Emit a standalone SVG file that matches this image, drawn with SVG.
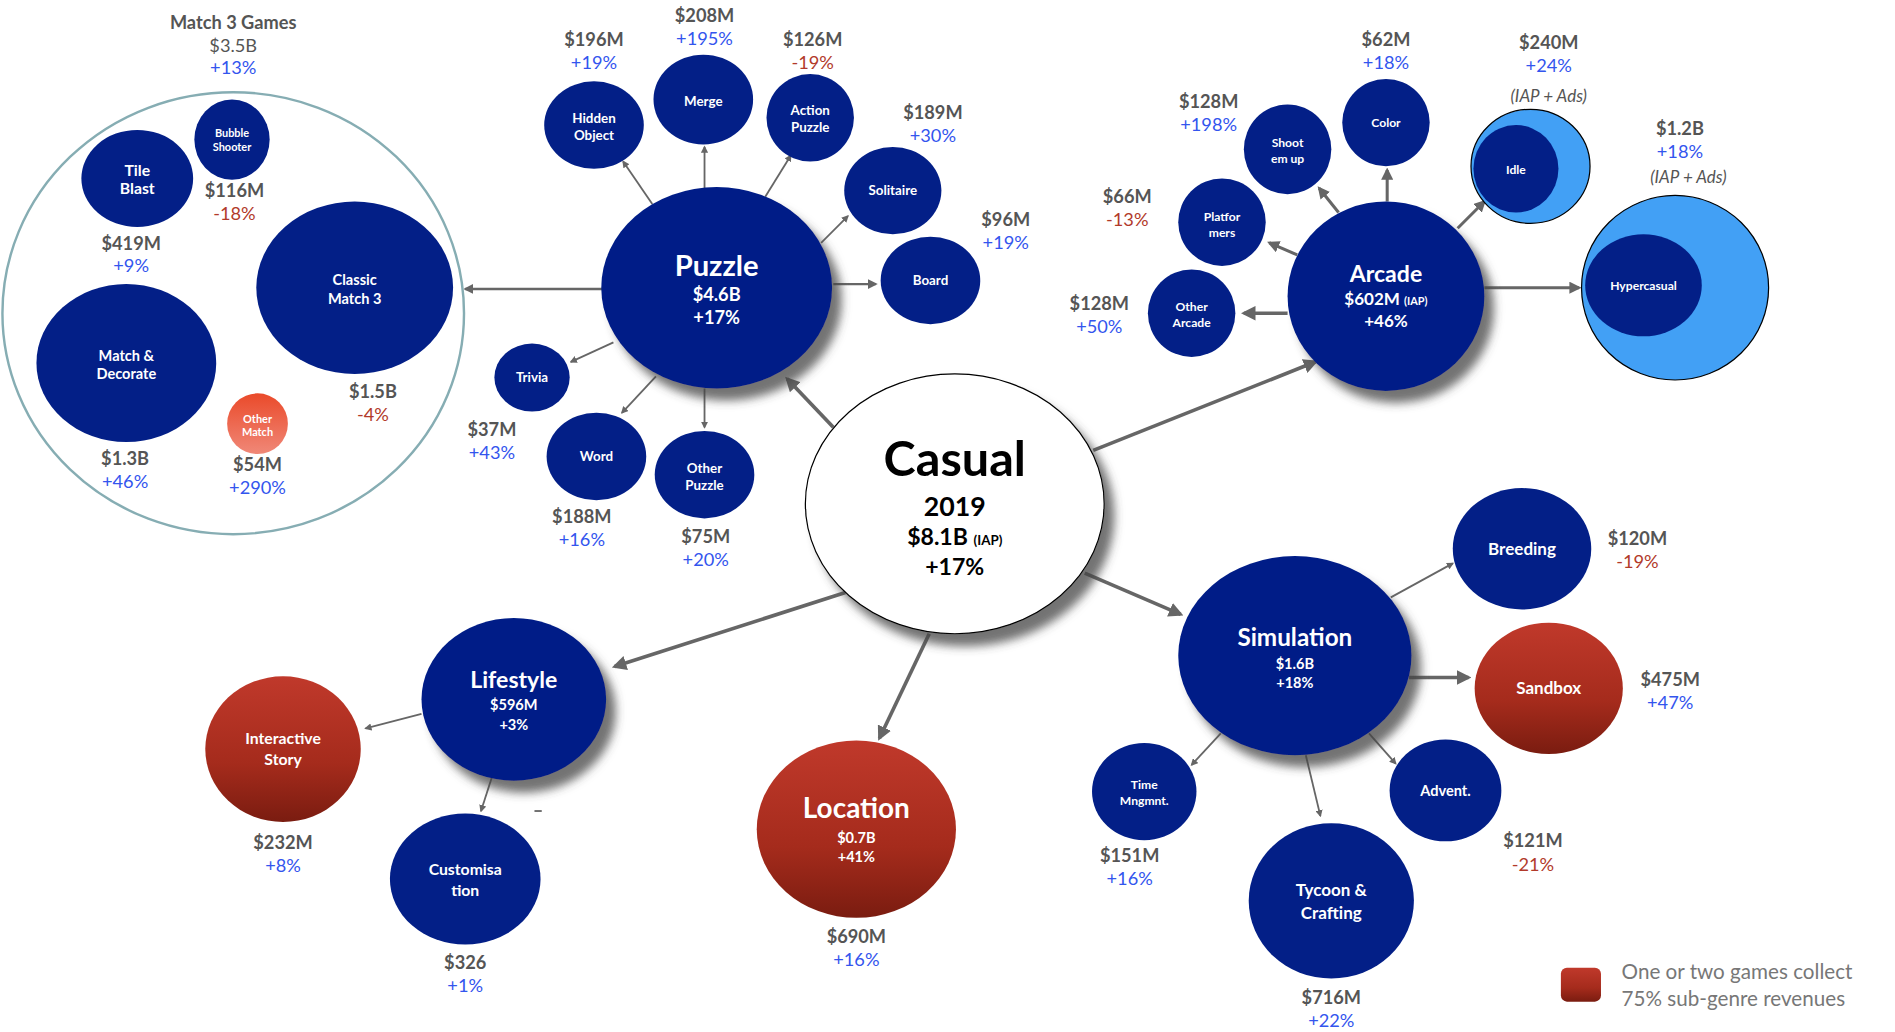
<svg xmlns="http://www.w3.org/2000/svg" width="1895" height="1032" viewBox="0 0 1895 1032">
<defs>
<style>
text{font-family:Lato,"Open Sans","Liberation Sans",sans-serif;text-anchor:middle}
.n{fill:#031f87}
.w{fill:#fff;font-weight:bold}
.v{fill:#555;font-weight:bold;font-size:15px}
.b{fill:#3355ee;font-size:15px}
.r{fill:#b23a2a;font-size:15px}
.g{fill:#555;font-size:14px;font-style:italic}
.c{stroke:#666;fill:none;marker-end:url(#a)}
.t{stroke-width:1.5}
.k{stroke-width:3}
</style>
<marker id="a" viewBox="0 0 10 10" refX="8" refY="5" markerWidth="4" markerHeight="4" orient="auto"><path d="M0,0L10,5L0,10z" fill="#666"/></marker>
<linearGradient id="red" x1="0" y1="0" x2="0" y2="1"><stop offset="0" stop-color="#c0392b"/><stop offset="0.6" stop-color="#a52b1c"/><stop offset="1" stop-color="#7a1c10"/></linearGradient>
<linearGradient id="orange" x1="0" y1="0" x2="0" y2="1"><stop offset="0" stop-color="#ea4a2a"/><stop offset="1" stop-color="#f08878"/></linearGradient>
<filter id="sh" x="-20%" y="-20%" width="150%" height="150%"><feDropShadow dx="8" dy="10" stdDeviation="4" flood-color="#444" flood-opacity="0.75"/></filter>
</defs>
<rect width="1895" height="1032" fill="#fff"/>
<g transform="scale(1.2147,1.2141)">
<g id="connectors">
<path class="c k" d="M686,352L648,312"/>
<path class="c k" d="M900,371L1083,298"/>
<path class="c k" d="M893,472L972,506"/>
<path class="c k" d="M696,488L506,549"/>
<path class="c k" d="M765,522L724,608"/>
<path class="c" stroke-width="2" d="M496,238L383,238"/>
<path class="c t" d="M537,168L513,133"/>
<path class="c t" d="M580,155L580,121"/>
<path class="c t" d="M630,162L651,128"/>
<path class="c t" d="M676,200L698,178"/>
<path class="c" stroke-width="2" d="M686,234L721,234"/>
<path class="c t" d="M505,282L470,298"/>
<path class="c t" d="M540,310L512,340"/>
<path class="c t" d="M580,320L580,352"/>
<path class="c" stroke-width="2.5" d="M1102,175L1086,155"/>
<path class="c" stroke-width="2.5" d="M1142,166L1142,140"/>
<path class="c" stroke-width="2.5" d="M1068,210L1045,200"/>
<path class="c k" d="M1060,258L1024,258"/>
<path class="c" stroke-width="2.5" d="M1200,188L1222,166"/>
<path class="c" stroke-width="2.5" d="M1222,237L1300,237"/>
<path class="c t" d="M1145,492L1196,464"/>
<path class="c k" d="M1160,558L1209,558"/>
<path class="c t" d="M1127,604L1149,629"/>
<path class="c t" d="M1075,622L1087,672"/>
<path class="c t" d="M1005,604L981,630"/>
<path class="c t" d="M347,588L301,600"/>
<path class="c t" d="M405,640L396,668"/>
<path d="M440,668L446,668" stroke="#666" stroke-width="1.5"/>
</g>
<g id="match3">
<ellipse cx="192" cy="258" rx="190" ry="182" fill="none" stroke="#86adb3" stroke-width="2"/>
<text x="192" y="24" class="v" font-size="15">Match 3 Games</text>
<text x="192" y="43" fill="#555" font-size="15">$3.5B</text>
<text x="192" y="61" class="b">+13%</text>
</g>
<g id="bubble"><ellipse class="n" cx="191" cy="115" rx="31" ry="33"/><text class="w" font-size="9"><tspan x="191" y="113">Bubble</tspan><tspan x="191" y="124">Shooter</tspan></text><text x="193" y="162" class="v">$116M</text><text x="193" y="181" class="r">-18%</text></g>
<g id="tile"><ellipse class="n" cx="113" cy="147" rx="46" ry="40"/><text class="w" font-size="13"><tspan x="113" y="145">Tile</tspan><tspan x="113" y="160">Blast</tspan></text><text x="108" y="206" class="v">$419M</text><text x="108" y="224" class="b">+9%</text></g>
<g id="classic"><ellipse class="n" cx="292" cy="237" rx="81" ry="71"/><text class="w" font-size="12"><tspan x="292" y="235">Classic</tspan><tspan x="292" y="250">Match 3</tspan></text><text x="307" y="328" class="v">$1.5B</text><text x="307" y="347" class="r">-4%</text></g>
<g id="decorate"><ellipse class="n" cx="104" cy="299" rx="74" ry="65"/><text class="w" font-size="12"><tspan x="104" y="297">Match &amp;</tspan><tspan x="104" y="312">Decorate</tspan></text><text x="103" y="383" class="v">$1.3B</text><text x="103" y="402" class="b">+46%</text></g>
<g id="othermatch"><circle cx="212" cy="349" r="25" fill="url(#orange)"/><text class="w" font-size="9"><tspan x="212" y="348">Other</tspan><tspan x="212" y="359">Match</tspan></text><text x="212" y="388" class="v">$54M</text><text x="212" y="407" class="b">+290%</text></g>
<g id="puzzle"><ellipse class="n" cx="590" cy="237" rx="95" ry="83" filter="url(#sh)"/><text x="590" y="227" class="w" font-size="24">Puzzle</text><text x="590" y="248" class="w" font-size="15">$4.6B</text><text x="590" y="267" class="w" font-size="15">+17%</text></g>
<g id="hidden"><ellipse class="n" cx="489" cy="103" rx="41" ry="36"/><text class="w" font-size="11"><tspan x="489" y="101">Hidden</tspan><tspan x="489" y="115">Object</tspan></text><text x="489" y="38" class="v">$196M</text><text x="489" y="57" class="b">+19%</text></g>
<g id="merge"><ellipse class="n" cx="579" cy="82" rx="41" ry="37"/><text x="579" y="87" class="w" font-size="11">Merge</text><text x="580" y="18" class="v">$208M</text><text x="580" y="37" class="b">+195%</text></g>
<g id="action"><ellipse class="n" cx="667" cy="97" rx="36" ry="36"/><text class="w" font-size="11"><tspan x="667" y="95">Action</tspan><tspan x="667" y="109">Puzzle</tspan></text><text x="669" y="38" class="v">$126M</text><text x="669" y="57" class="r">-19%</text></g>
<g id="solitaire"><ellipse class="n" cx="735" cy="157" rx="40" ry="36"/><text x="735" y="161" class="w" font-size="11">Solitaire</text><text x="768" y="98" class="v">$189M</text><text x="768" y="117" class="b">+30%</text></g>
<g id="board"><ellipse class="n" cx="766" cy="231" rx="41" ry="36"/><text x="766" y="235" class="w" font-size="11">Board</text><text x="828" y="186" class="v">$96M</text><text x="828" y="205" class="b">+19%</text></g>
<g id="trivia"><ellipse class="n" cx="438" cy="311" rx="31" ry="28"/><text x="438" y="315" class="w" font-size="11">Trivia</text><text x="405" y="359" class="v">$37M</text><text x="405" y="378" class="b">+43%</text></g>
<g id="word"><ellipse class="n" cx="491" cy="376" rx="41" ry="36"/><text x="491" y="380" class="w" font-size="11">Word</text><text x="479" y="431" class="v">$188M</text><text x="479" y="450" class="b">+16%</text></g>
<g id="otherpuzzle"><ellipse class="n" cx="580" cy="391" rx="41" ry="36"/><text class="w" font-size="11"><tspan x="580" y="390">Other</tspan><tspan x="580" y="404">Puzzle</tspan></text><text x="581" y="447" class="v">$75M</text><text x="581" y="466" class="b">+20%</text></g>
<g id="casual"><ellipse cx="786" cy="415" rx="123" ry="107" fill="#fff" stroke="#000" stroke-width="1" filter="url(#sh)"/><text x="786" y="392" font-weight="bold" font-size="40" fill="#000">Casual</text><text x="786" y="425" font-weight="bold" font-size="22" fill="#000">2019</text><text x="786" y="449" font-weight="bold" font-size="19" fill="#000">$8.1B <tspan font-size="11">(IAP)</tspan></text><text x="786" y="474" font-weight="bold" font-size="19" fill="#000">+17%</text></g>
<g id="arcade"><ellipse class="n" cx="1141" cy="244" rx="81" ry="78" filter="url(#sh)"/><text x="1141" y="232" class="w" font-size="19">Arcade</text><text x="1141" y="251" class="w" font-size="14">$602M <tspan font-size="9">(IAP)</tspan></text><text x="1141" y="269" class="w" font-size="14">+46%</text></g>
<g id="shoot"><ellipse class="n" cx="1060" cy="123" rx="36" ry="37"/><text class="w" font-size="10"><tspan x="1060" y="121">Shoot</tspan><tspan x="1060" y="134">em up</tspan></text><text x="995" y="89" class="v">$128M</text><text x="995" y="108" class="b">+198%</text></g>
<g id="color"><ellipse class="n" cx="1141" cy="101" rx="36" ry="36"/><text x="1141" y="105" class="w" font-size="10">Color</text><text x="1141" y="38" class="v">$62M</text><text x="1141" y="57" class="b">+18%</text></g>
<g id="platformers"><ellipse class="n" cx="1006" cy="183" rx="36" ry="36"/><text class="w" font-size="10"><tspan x="1006" y="182">Platfor</tspan><tspan x="1006" y="195">mers</tspan></text><text x="928" y="167" class="v">$66M</text><text x="928" y="186" class="r">-13%</text></g>
<g id="otherarcade"><ellipse class="n" cx="981" cy="258" rx="36" ry="36"/><text class="w" font-size="10"><tspan x="981" y="256">Other</tspan><tspan x="981" y="269">Arcade</tspan></text><text x="905" y="255" class="v">$128M</text><text x="905" y="274" class="b">+50%</text></g>
<g id="idle"><ellipse cx="1260" cy="137" rx="49" ry="47" fill="#42a0f5" stroke="#000"/><ellipse class="n" cx="1248" cy="139" rx="35" ry="36"/><text x="1248" y="143" class="w" font-size="10">Idle</text><text x="1275" y="40" class="v">$240M</text><text x="1275" y="59" class="b">+24%</text><text x="1275" y="84" class="g">(IAP + Ads)</text></g>
<g id="hypercasual"><ellipse cx="1379" cy="237" rx="77" ry="76" fill="#42a0f5" stroke="#000"/><ellipse class="n" cx="1353" cy="235" rx="48" ry="42"/><text x="1353" y="239" class="w" font-size="10">Hypercasual</text><text x="1383" y="111" class="v">$1.2B</text><text x="1383" y="130" class="b">+18%</text><text x="1390" y="151" class="g">(IAP + Ads)</text></g>
<g id="simulation"><ellipse class="n" cx="1066" cy="540" rx="96" ry="82" filter="url(#sh)"/><text x="1066" y="532" class="w" font-size="20">Simulation</text><text x="1066" y="551" class="w" font-size="12">$1.6B</text><text x="1066" y="567" class="w" font-size="12">+18%</text></g>
<g id="breeding"><ellipse class="n" cx="1253" cy="452" rx="57" ry="50"/><text x="1253" y="457" class="w" font-size="14">Breeding</text><text x="1348" y="449" class="v">$120M</text><text x="1348" y="468" class="r">-19%</text></g>
<g id="sandbox"><ellipse cx="1275" cy="567" rx="61" ry="54" fill="url(#red)"/><text x="1275" y="572" class="w" font-size="14">Sandbox</text><text x="1375" y="565" class="v">$475M</text><text x="1375" y="584" class="b">+47%</text></g>
<g id="advent"><ellipse class="n" cx="1190" cy="651" rx="46" ry="42"/><text x="1190" y="656" class="w" font-size="12">Advent.</text><text x="1262" y="698" class="v">$121M</text><text x="1262" y="717" class="r">-21%</text></g>
<g id="tycoon"><ellipse class="n" cx="1096" cy="742" rx="68" ry="64"/><text class="w" font-size="14"><tspan x="1096" y="738">Tycoon &amp;</tspan><tspan x="1096" y="757">Crafting</tspan></text><text x="1096" y="827" class="v">$716M</text><text x="1096" y="846" class="b">+22%</text></g>
<g id="time"><ellipse class="n" cx="942" cy="652" rx="43" ry="40"/><text class="w" font-size="10"><tspan x="942" y="650">Time</tspan><tspan x="942" y="663">Mngmnt.</tspan></text><text x="930" y="710" class="v">$151M</text><text x="930" y="729" class="b">+16%</text></g>
<g id="lifestyle"><ellipse class="n" cx="423" cy="576" rx="76" ry="67" filter="url(#sh)"/><text x="423" y="567" class="w" font-size="19">Lifestyle</text><text x="423" y="585" class="w" font-size="12">$596M</text><text x="423" y="601" class="w" font-size="12">+3%</text></g>
<g id="interactive"><ellipse cx="233" cy="617" rx="64" ry="60" fill="url(#red)"/><text class="w" font-size="13"><tspan x="233" y="613">Interactive</tspan><tspan x="233" y="630">Story</tspan></text><text x="233" y="699" class="v">$232M</text><text x="233" y="718" class="b">+8%</text></g>
<g id="customisation"><ellipse class="n" cx="383" cy="724" rx="62" ry="54"/><text class="w" font-size="13"><tspan x="383" y="721">Customisa</tspan><tspan x="383" y="738">tion</tspan></text><text x="383" y="798" class="v">$326</text><text x="383" y="817" class="b">+1%</text></g>
<g id="location"><ellipse cx="705" cy="683" rx="82" ry="73" fill="url(#red)"/><text x="705" y="674" class="w" font-size="23">Location</text><text x="705" y="694" class="w" font-size="12">$0.7B</text><text x="705" y="710" class="w" font-size="12">+41%</text><text x="705" y="777" class="v">$690M</text><text x="705" y="796" class="b">+16%</text></g>
<g id="legend"><rect x="1285" y="797" width="33" height="28" rx="5" fill="url(#red)"/><text x="1335" y="806" fill="#777" font-size="17" style="text-anchor:start">One or two games collect</text><text x="1335" y="829" fill="#777" font-size="17" style="text-anchor:start">75% sub-genre revenues</text></g>
</g>
</svg>
